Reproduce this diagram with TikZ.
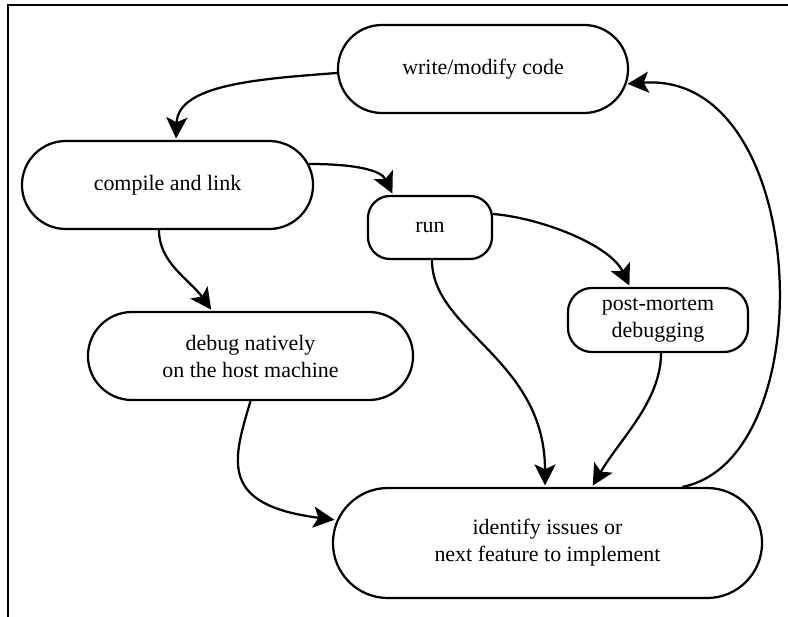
\documentclass[tikz,border=0pt]{standalone}
\usepackage{fontspec}
\setmainfont{Liberation Serif}
\usetikzlibrary{arrows.meta,calc,positioning}
\tikzset{
    %Define standard arrow tip
    >={Stealth[length=15pt,width=15pt,inset=3.5pt]},
    %Define style for boxes
    stage/.style={
           rectangle,
           rounded corners=1.1cm,
           draw=black, line width=1.6pt,
           minimum width=7.25cm,
           minimum height=2.2cm,
           inner sep=0pt,
           align=center,
           font=\fontsize{15.6}{19.2}\selectfont},
    smallstage/.style={
           stage,
           rounded corners=0.6cm,
           minimum height=1.6cm},
    % Define arrow style
    flow/.style={
           ->,
           line width=1.6pt,
           shorten >=1pt}
}

\begin{document}
\begin{tikzpicture}[x=0.025cm,y=-0.025cm]
\useasboundingbox (0,0) rectangle (788,617);
\draw[line width=2pt] (8,617) -- (8,5) -- (788,5);

 %nodes
\node[stage](write) at (483,69) {write/modify code};
\node[stage, minimum width=7.275cm](compile) at (167.5,185) {compile and link};
\node[smallstage, minimum width=3.1cm, minimum height=1.575cm, rounded corners=0.55cm](run) at (430,227.5) {run};
\node[smallstage, minimum width=4.5cm](post) at (658,320) {post-mortem\\debugging};
\node[stage, minimum width=8.125cm](debug) at (250.5,356) {debug natively\\on the host machine};
\node[stage, minimum width=10.725cm, minimum height=2.75cm, rounded corners=1.375cm](identify) at (547.5,543) {identify issues or\\next feature to implement};

 %connectors
\draw[flow] ($(write.west)+(0,4)$) .. controls +(-80,6) and +(2,-55) .. ($(compile.north)+(8.5,0)$);
\draw[flow] ($(compile.east)+(-5,-21)$) .. controls +(45,0) and +(-12,-25) .. ($(run.north)+(-37,0)$);
\draw[flow] ($(compile.south)+(-8.5,0)$) .. controls +(0,33) and +(-22,-31) .. ($(debug.north)+(-38.5,0)$);
\draw[flow] ($(run.east)+(0,-13.5)$) .. controls +(48,4) and +(-20,-42) .. ($(post.north)+(-28,0)$);
\draw[flow] ($(run.south)+(2,0)$) .. controls +(0,71) and +(0,-128) .. ($(identify.north)+(-2.5,0)$);
\draw[flow] ($(post.south)+(3,0)$) .. controls +(0,48) and +(28,-48) .. ($(identify.north)+(44.5,0)$);
\draw[flow] (debug.south) .. controls +(-18,60) and +(-117,-15) .. ($(identify.west)+(4,-23)$);
\draw[flow] ($(identify.north)+(135,0)$) .. controls +(142,-28) and +(185,-14) .. ($(write.east)+(-3,15)$);

\end{tikzpicture}
\end{document}
